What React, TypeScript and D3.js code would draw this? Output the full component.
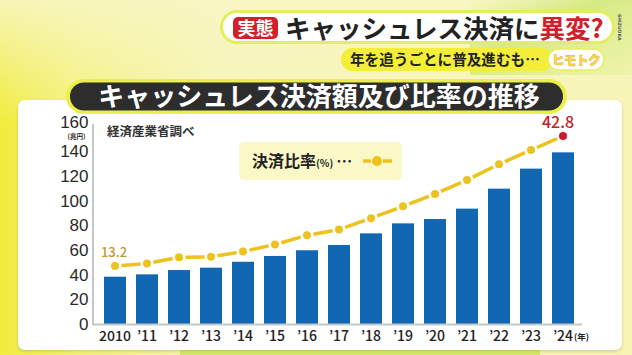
import React from "react";
import * as d3 from "d3";

const years = ["2010","2011","2012","2013","2014","2015","2016","2017","2018","2019","2020","2021","2022","2023","2024"];
const yearLabels = ["2010","’11","’12","’13","’14","’15","’16","’17","’18","’19","’20","’21","’22","’23","’24"];
const amounts = [38.3, 40.2, 43.7, 45.6, 50.4, 55.1, 59.7, 64.0, 73.4, 81.5, 85.0, 93.4, 109.6, 125.8, 139.0];
const ratios = [13.2, 13.8, 15.2, 15.3, 16.5, 18.1, 20.2, 21.5, 24.1, 26.8, 29.6, 32.8, 36.4, 39.6, 42.8];
const yTicks = [0, 20, 40, 60, 80, 100, 120, 140, 160];

const JP = "'Noto Sans CJK JP', 'Noto Sans', sans-serif";
const NUM = "'Liberation Sans', Arial, sans-serif";

export default function App() {
  const W = 632, H = 355;
  const x = d3.scaleBand<string>().domain(years).range([99, 579]).paddingInner(0.3125).paddingOuter(0.15625);
  const y = d3.scaleLinear().domain([0, 160]).range([324, 126.4]);
  const yr = d3.scaleLinear().domain([0, 45]).range([324, 126.4]);
  const cx = (i: number) => (x(years[i]) as number) + x.bandwidth() / 2;

  const dotR = 4;
  const gap = 6.5;
  const segs = ratios.slice(1).map((r, k) => {
    const x1 = cx(k), y1 = yr(ratios[k]);
    const x2 = cx(k + 1), y2 = yr(r);
    const dx = x2 - x1, dy = y2 - y1;
    const len = Math.hypot(dx, dy);
    const ux = dx / len, uy = dy / len;
    return [x1 + ux * gap, y1 + uy * gap, x2 - ux * gap, y2 - uy * gap];
  });

  const last = ratios.length - 1;

  return (
    <svg width={W} height={H} style={{ position: "absolute", left: 0, top: 0, display: "block" }} fontFamily={JP}>
      <defs>
        <linearGradient id="bgL" x1="0" y1="0" x2="1" y2="0">
          <stop offset="0" stopColor="#f1ec3c" />
          <stop offset="0.12" stopColor="#f4f17a" />
          <stop offset="0.35" stopColor="#f7f5b8" />
          <stop offset="1" stopColor="#f7f4b4" />
        </linearGradient>
        <linearGradient id="bgT" x1="0" y1="0" x2="0" y2="1">
          <stop offset="0" stopColor="#f8f6c4" stopOpacity="0.9" />
          <stop offset="0.35" stopColor="#f8f6c4" stopOpacity="0" />
        </linearGradient>
        <linearGradient id="greenTR" x1="0" y1="0" x2="1" y2="1">
          <stop offset="0" stopColor="#d6ea86" stopOpacity="0" />
          <stop offset="0.4" stopColor="#d2e87c" stopOpacity="0.9" />
          <stop offset="1" stopColor="#e8f2a0" stopOpacity="0.6" />
        </linearGradient>
        <filter id="sh" x="-5%" y="-5%" width="110%" height="115%">
          <feDropShadow dx="0" dy="1.5" stdDeviation="1.5" floodColor="#8a8a40" floodOpacity="0.35" />
        </filter>
      </defs>

      {/* background */}
      <rect x={0} y={0} width={W} height={H} fill="url(#bgL)" />
      <rect x={0} y={0} width={W} height={H} fill="url(#bgT)" />
      <rect x={470} y={0} width={162} height={75} fill="url(#greenTR)" />
      <rect x={180} y={348} width={360} height={7} fill="#d6e86a" />

      {/* header */}
      <rect x={220} y={10} width={395} height={34} rx={17} fill="#e2ee5c" />
      <rect x={223} y={13} width={389} height={28} rx={14} fill="#ffffff" />
      <rect x={233} y={17} width={45} height={22} rx={5} fill="#d0202a" />
      <text x={255.5} y={34.5} textAnchor="middle" fontSize={18} fontWeight={700} fill="#ffffff">実態</text>
      <text x={285} y={37.5} fontSize={25.5} fontWeight={700} fill="#222222">
        キャッシュレス決済に<tspan fill="#d0202a">異変?</tspan>
      </text>
      <text transform="translate(618,14) rotate(90)" fontSize={4.5} fontWeight={700} fill="#555" fontFamily="'DejaVu Sans', sans-serif">SHIZUOKA</text>

      <rect x={341} y={48} width={212} height={23} rx={11.5} fill="#f2ee3a" />
      <text x={350} y={65} fontSize={14.6} fontWeight={700} fill="#222222">年を追うごとに普及進むも…</text>
      <rect x={548} y={49} width={56} height={21} rx={10.5} fill="#ffffff" stroke="#e8ee60" strokeWidth={1.5} />
      <text x={576} y={64.5} textAnchor="middle" fontSize={12.5} fontWeight={900} fill="#f6e04a" stroke="#eaa83a" strokeWidth={0.5} letterSpacing={-0.5}>ヒモトク</text>

      {/* panel */}
      <rect x={18} y={100} width={604} height={250} rx={7} fill="#ffffff" filter="url(#sh)" />

      {/* title banner */}
      <rect x={66} y={79} width={501} height={35} rx={17.5} fill="#eaf048" />
      <rect x={70} y={82.5} width={493} height={28} rx={14} fill="#2d2d2d" />
      <text x={319} y={105.5} textAnchor="middle" fontSize={26} fontWeight={700} fill="#ffffff">キャッシュレス決済額及び比率の推移</text>

      {/* y axis labels */}
      {yTicks.map((t) => (
        <text key={t} x={88.5} y={t === 160 ? 128 : y(t) + 6} textAnchor="end" fontSize={17} fontFamily={NUM} fill="#2a2a2a">{t}</text>
      ))}
      <text x={76.5} y={139.2} textAnchor="middle" fontSize={6.5} fontWeight={700} fill="#2a2a2a">(兆円)</text>
      <text x={107} y={136} fontSize={12.5} fontWeight={700} fill="#333333">経済産業省調べ</text>

      {/* bars */}
      {amounts.map((v, i) => (
        <rect key={years[i]} x={x(years[i])} y={y(v)} width={x.bandwidth()} height={y(0) - y(v)} fill="#1167b1" />
      ))}

      {/* axes */}
      <line x1={93} x2={93} y1={124} y2={325} stroke="#c4c8cc" strokeWidth={2} />
      <line x1={92} x2={582} y1={324.5} y2={324.5} stroke="#c4c8cc" strokeWidth={2} />

      {/* x labels */}
      {yearLabels.map((l, i) => (
        <text key={l} x={cx(i)} y={341} textAnchor="middle" fontSize={14} fontWeight={500} fill="#222222">{l}</text>
      ))}
      <text x={574} y={340} fontSize={8.5} fontWeight={700} fill="#222222">(年)</text>

      {/* legend */}
      <rect x={239} y={142} width={163} height={38} rx={5} fill="#fbf8c8" />
      <text x={252} y={167} fontSize={16} fontWeight={700} fill="#222222">決済比率<tspan fontSize={10}>(%)</tspan><tspan dx={3}>…</tspan></text>
      <line x1={363} x2={371} y1={161} y2={161} stroke="#eec21e" strokeWidth={3.5} />
      <line x1={383} x2={392} y1={161} y2={161} stroke="#eec21e" strokeWidth={3.5} />
      <circle cx={377} cy={161} r={5} fill="#eec21e" />

      {/* ratio line */}
      {segs.map((s, k) => (
        <line key={k} x1={s[0]} y1={s[1]} x2={s[2]} y2={s[3]} stroke="#eec21e" strokeWidth={3.5} />
      ))}
      {ratios.map((r, i) => (
        <circle key={i} cx={cx(i)} cy={yr(r)} r={dotR} fill={i === last ? "#d0182a" : "#eec21e"} />
      ))}
      <text x={cx(0) - 1} y={257} textAnchor="middle" fontSize={13} fontWeight={500} fill="#c09a30">{ratios[0].toFixed(1)}</text>
      <text x={cx(last) - 5} y={128} textAnchor="middle" fontSize={16} fontWeight={500} fill="#c8202a">{ratios[last].toFixed(1)}</text>
    </svg>
  );
}
